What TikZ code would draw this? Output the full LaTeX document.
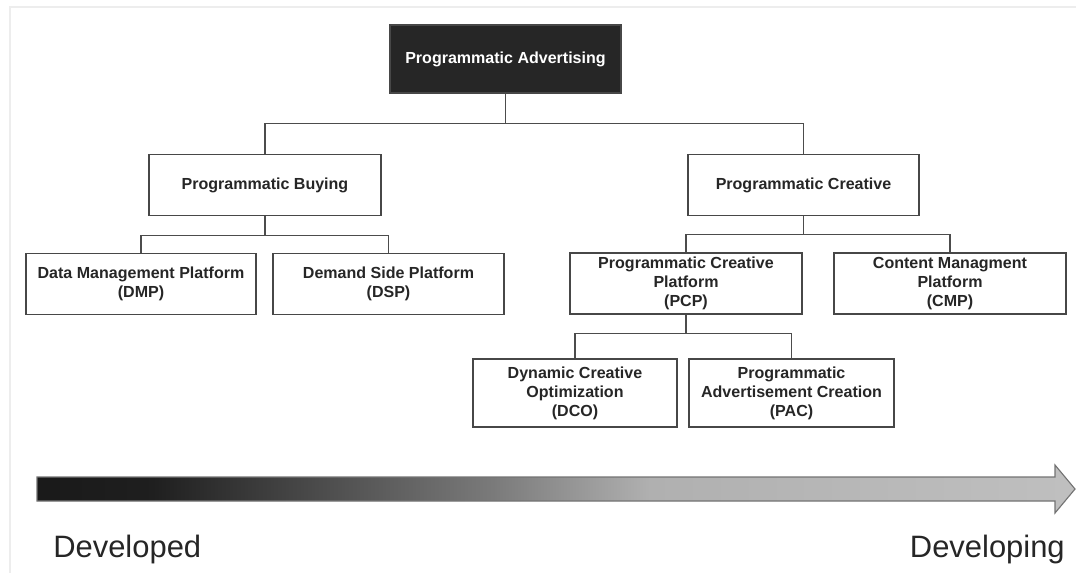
\documentclass[tikz,border=0pt]{standalone}
\usepackage{fontspec}
\setmainfont{Liberation Sans}
\pgfdeclarehorizontalshading{devshade}{100bp}{color(0bp)=(black!90); color(25bp)=(black!90); color(30.5bp)=(black!88); color(47bp)=(black!52); color(54.5bp)=(black!31); color(75bp)=(black!25); color(100bp)=(black!25)}

\begin{document}
\begin{tikzpicture}[x=0.025cm, y=-0.025cm,
    box/.style={draw=black!72, line width=1pt, fill=white, text=black!85,
        font=\fontsize{11.4}{13.6}\selectfont\bfseries, align=center,
        inner sep=0pt, minimum height=1.525cm},
    topbox/.style={box, fill=black!85, text=white!92, minimum width=5.775cm, minimum height=1.7cm},
    link/.style={draw=black!70, line width=1pt},
    endlabel/.style={font=\fontsize{22}{26}\selectfont, text=black!85, inner sep=0pt}]
    \useasboundingbox (0,0) rectangle (1076,573);
    \draw[black!7, line width=1pt] (10,573) -- (10,7) -- (1076,7);

    \node[topbox] (pa) at (505.5,59) {Programmatic Advertising};
    \node[box, minimum width=5.8cm] (buy) at (265,185) {Programmatic Buying};
    \node[box, minimum width=5.775cm] (cre) at (803.5,185) {Programmatic Creative};
    \node[box, minimum width=5.75cm] (dmp) at (141,284) {Data Management Platform\\(DMP)};
    \node[box, minimum width=5.775cm] (dsp) at (388.5,284) {Demand Side Platform\\(DSP)};
    \node[box, minimum width=5.8cm] (pcp) at (686,283.5) {Programmatic Creative\\Platform\\(PCP)};
    \node[box, minimum width=5.8cm] (cmp) at (950,283.5) {Content Managment\\Platform\\(CMP)};
    \node[box, minimum width=5.1cm, minimum height=1.7cm] (dco) at (575,393) {Dynamic Creative\\Optimization\\(DCO)};
    \node[box, minimum width=5.125cm, minimum height=1.7cm] (pac) at (791.5,393) {Programmatic\\Advertisement Creation\\(PAC)};

    \draw[link] (pa.south) -- +(0,30) -| (buy.north);
    \draw[link] (pa.south) -- +(0,30) -| (cre.north);
    \draw[link] (buy.south) -- +(0,19) -| (dmp.north);
    \draw[link] (buy.south) -- +(0,19) -| (dsp.north);
    \draw[link] (cre.south) -- +(0,18) -| (pcp.north);
    \draw[link] (cre.south) -- +(0,18) -| (cmp.north);
    \draw[link] (pcp.south) -- +(0,19) -| (dco.north);
    \draw[link] (pcp.south) -- +(0,19) -| (pac.north);

    % timeline
    \shade[shading=devshade, draw=black!55, line width=0.8pt] (37,477) -- (1055,477) -- (1055,465) -- (1075,489) -- (1055,513) -- (1055,501) -- (37,501) -- cycle;
    \node[endlabel, anchor=base west] (old) at (53,557) {Developed};
    \node[endlabel, anchor=base east] (new) at (1065,557) {Developing};
\end{tikzpicture}
\end{document}
